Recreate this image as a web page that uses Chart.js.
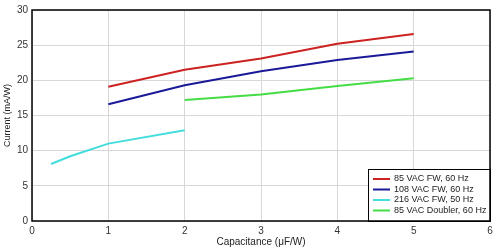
<!DOCTYPE html>
<html>
<head>
<meta charset="utf-8">
<script src="https://cdn.jsdelivr.net/npm/chart.js@4"></script>
<style>
html,body{margin:0;padding:0;background:#fff;}
#wrap{width:500px;height:250px;position:relative;}
</style>
</head>
<body>
<div id="wrap"><canvas id="c" width="500" height="250"></canvas></div>
<script>
const labels = ["85 VAC FW, 60 Hz", "108 VAC FW, 60 Hz", "216 VAC FW, 50 Hz", "85 VAC Doubler, 60 Hz"];
const redX = [1, 2, 3, 4, 5];
const redY = [19.1, 21.5, 23.1, 25.2, 26.6];
const blueX = [1, 2, 3, 4, 5];
const blueY = [16.6, 19.3, 21.3, 22.9, 24.1];
const cyanX = [0.25, 0.5, 1, 2];
const cyanY = [8.1, 9.2, 11.0, 12.9];
const greenX = [2, 3, 4, 5];
const greenY = [17.2, 18.0, 19.2, 20.3];
const xTicks = [0, 1, 2, 3, 4, 5, 6];
const yTicks = [0, 5, 10, 15, 20, 25, 30];
const colors = ["#cc2222", "#1a1a99", "#44dddd", "#44dd44"];

function pts(xs, ys){ return xs.map((x,i)=>({x:x, y:ys[i]})); }

const font = {family: "'Liberation Sans', Arial, sans-serif", size: 10};

const legendPlugin = {
  id: 'insideLegend',
  afterDatasetsDraw(chart){
    const ctx = chart.ctx, a = chart.chartArea;
    const w = 122, h = 52;
    const x0 = a.right - w, y0 = a.bottom - h;
    ctx.save();
    ctx.fillStyle = '#fff';
    ctx.fillRect(x0, y0, w, h);
    ctx.strokeStyle = '#000';
    ctx.lineWidth = 1;
    ctx.strokeRect(x0 + 0.5, y0 + 0.5, w, h);
    ctx.font = "9px 'Liberation Sans', Arial, sans-serif";
    ctx.textBaseline = 'middle';
    chart.data.datasets.forEach((ds, i) => {
      const y = y0 + 10 + i * 10.5;
      ctx.strokeStyle = ds.borderColor;
      ctx.lineWidth = 2;
      ctx.beginPath();
      ctx.moveTo(x0 + 5, y);
      ctx.lineTo(x0 + 22, y);
      ctx.stroke();
      ctx.fillStyle = '#222';
      ctx.fillText(ds.label, x0 + 26, y);
    });
    ctx.restore();
  }
};

const borderPlugin = {
  id: 'plotBorder',
  afterDraw(chart){
    const ctx = chart.ctx, a = chart.chartArea;
    ctx.save();
    ctx.strokeStyle = '#000';
    ctx.lineWidth = 1.5;
    ctx.strokeRect(a.left, a.top, a.right - a.left, a.bottom - a.top);
    ctx.restore();
  }
};

new Chart(document.getElementById('c'), {
  type: 'line',
  data: {
    datasets: [
      {label: labels[0], data: pts(redX, redY), borderColor: colors[0]},
      {label: labels[1], data: pts(blueX, blueY), borderColor: colors[1]},
      {label: labels[2], data: pts(cyanX, cyanY), borderColor: colors[2]},
      {label: labels[3], data: pts(greenX, greenY), borderColor: colors[3]}
    ].map(d => Object.assign(d, {borderWidth: 2, pointRadius: 0, fill: false, tension: 0}))
  },
  options: {
    responsive: false,
    animation: false,
    layout: {padding: {top: 10, right: 10, left: 2, bottom: 0}},
    plugins: {legend: {display: false}, tooltip: {enabled: false}},
    scales: {
      x: {
        type: 'linear', min: 0, max: 6,
        afterBuildTicks(s){ s.ticks = xTicks.map(v => ({value: v})); },
        afterFit(s){ s.height = 29; },
        grid: {color: '#d8d8d8', drawTicks: false, lineWidth: 1},
        border: {display: false},
        ticks: {font: font, color: '#333', padding: 4, maxRotation: 0},
        title: {display: true, text: 'Capacitance (μF/W)', font: font, color: '#222', padding: {top: 0, bottom: 2}}
      },
      y: {
        type: 'linear', min: 0, max: 30,
        afterBuildTicks(s){ s.ticks = yTicks.map(v => ({value: v})); },
        afterFit(s){ s.width = 30; },
        grid: {color: '#d8d8d8', drawTicks: false, lineWidth: 1},
        border: {display: false},
        ticks: {font: font, color: '#333', padding: 4},
        title: {display: true, text: 'Current (mA/W)', font: {family: font.family, size: 9}, color: '#222', padding: {top: 0, bottom: 2}}
      }
    }
  },
  plugins: [legendPlugin, borderPlugin]
});
</script>
</body>
</html>
